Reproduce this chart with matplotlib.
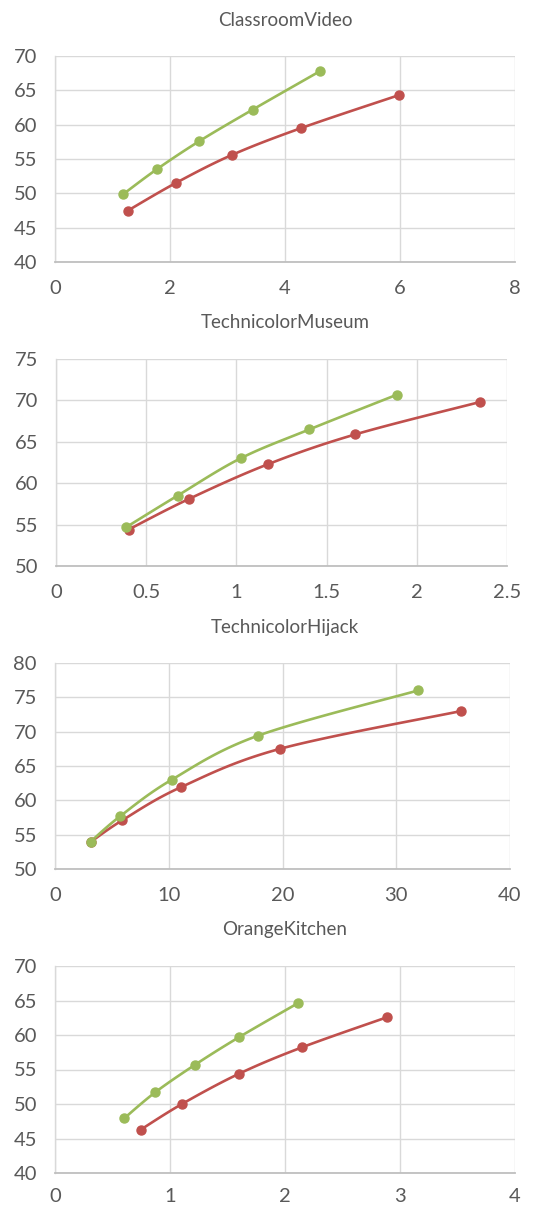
import numpy as np
import matplotlib
matplotlib.use("Agg")
import matplotlib.pyplot as plt

plt.rcParams['font.family'] = ['Lato', 'DejaVu Sans']

W, H = 542, 1207

titles = ["ClassroomVideo", "TechnicolorMuseum", "TechnicolorHijack", "OrangeKitchen"]

# green series (x, y) per dataset
green_x = [
    [1.19, 1.77, 2.51, 3.44, 4.61],
    [0.39, 0.674, 1.023, 1.405, 1.891],
    [3.14, 5.74, 10.26, 17.82, 31.91],
    [0.60, 0.872, 1.219, 1.602, 2.111],
]
green_y = [
    [49.9, 53.5, 57.6, 62.2, 67.8],
    [54.7, 58.5, 63.0, 66.5, 70.7],
    [54.0, 57.7, 63.0, 69.4, 76.0],
    [47.9, 51.7, 55.7, 59.7, 64.6],
]
# red series (x, y) per dataset
red_x = [
    [1.27, 2.10, 3.08, 4.28, 5.98],
    [0.402, 0.737, 1.176, 1.66, 2.349],
    [3.19, 5.92, 11.05, 19.78, 35.69],
    [0.747, 1.104, 1.602, 2.146, 2.891],
]
red_y = [
    [47.5, 51.5, 55.6, 59.5, 64.3],
    [54.4, 58.1, 62.3, 65.9, 69.8],
    [54.0, 57.1, 61.9, 67.5, 73.0],
    [46.3, 50.0, 54.4, 58.2, 62.6],
]

x_ticks = [
    [0, 2, 4, 6, 8],
    [0, 0.5, 1, 1.5, 2, 2.5],
    [0, 10, 20, 30, 40],
    [0, 1, 2, 3, 4],
]
x_ticklabels = [
    ["0", "2", "4", "6", "8"],
    ["0", "0.5", "1", "1.5", "2", "2.5"],
    ["0", "10", "20", "30", "40"],
    ["0", "1", "2", "3", "4"],
]
y_ticks = [
    [40, 45, 50, 55, 60, 65, 70],
    [50, 55, 60, 65, 70, 75],
    [50, 55, 60, 65, 70, 75, 80],
    [40, 45, 50, 55, 60, 65, 70],
]

# axes boxes in pixels: left, top, right, bottom
boxes = [
    (55, 56, 515, 262),
    (56, 359, 507, 566),
    (55, 663, 510, 869),
    (55, 966, 515, 1173),
]
title_y = [20, 323, 627, 930]
x_pad = [13, 13, 13, 11]

GREEN = "#9BBB59"
RED = "#C0504D"
TXT = "#595959"
GRID = "#D9D9D9"


def smooth(x, y, n=30, t=1.0 / 6):
    """Cardinal-spline through the points, drawn as cubic Bezier segments."""
    x = np.asarray(x, float)
    y = np.asarray(y, float)
    px = np.concatenate([[x[0]], x, [x[-1]]])
    py = np.concatenate([[y[0]], y, [y[-1]]])
    outx, outy = [], []
    s = np.linspace(0, 1, n)
    for i in range(1, len(px) - 2):
        p0 = np.array([px[i], py[i]])
        p3 = np.array([px[i + 1], py[i + 1]])
        p1 = p0 + (np.array([px[i + 1], py[i + 1]]) - np.array([px[i - 1], py[i - 1]])) * t
        p2 = p3 - (np.array([px[i + 2], py[i + 2]]) - np.array([px[i], py[i]])) * t
        b = ((1 - s) ** 3)[:, None] * p0 + (3 * (1 - s) ** 2 * s)[:, None] * p1 \
            + (3 * (1 - s) * s ** 2)[:, None] * p2 + (s ** 3)[:, None] * p3
        outx.extend(b[:, 0])
        outy.extend(b[:, 1])
    return np.array(outx), np.array(outy)


fig = plt.figure(figsize=(W / 100, H / 100), dpi=100)
fig.patch.set_facecolor("white")

for k in range(4):
    l, t, r, b = boxes[k]
    ax = fig.add_axes([l / W, 1 - b / H, (r - l) / W, (b - t) / H])
    for xs, ys, c in ((red_x[k], red_y[k], RED), (green_x[k], green_y[k], GREEN)):
        sx, sy = smooth(xs, ys)
        ax.plot(sx, sy, color=c, lw=1.9, solid_capstyle="round", zorder=3)
        ax.plot(xs, ys, "o", color=c, ms=6.5, mec=c, zorder=4)
    ax.set_xlim(x_ticks[k][0], x_ticks[k][-1])
    ax.set_ylim(y_ticks[k][0], y_ticks[k][-1])
    ax.set_xticks(x_ticks[k])
    ax.set_xticklabels(x_ticklabels[k])
    ax.set_yticks(y_ticks[k])
    ax.grid(True, color=GRID, lw=1.0, zorder=0)
    ax.set_axisbelow(True)
    for side in ("top", "right"):
        ax.spines[side].set_visible(False)
    ax.spines["left"].set_color(GRID)
    ax.spines["left"].set_linewidth(1.0)
    ax.spines["bottom"].set_color("#BFBFBF")
    ax.spines["bottom"].set_linewidth(1.3)
    ax.tick_params(length=0, labelsize=14.5, colors=TXT)
    ax.tick_params(axis="y", pad=13)
    ax.tick_params(axis="x", pad=x_pad[k])
    for lab in ax.get_xticklabels() + ax.get_yticklabels():
        lab.set_color(TXT)
    fig.text(285 / W, 1 - title_y[k] / H, titles[k], ha="center", va="center",
             fontsize=13.5, color=TXT)

fig.savefig("out.png", dpi=100, facecolor="white")
